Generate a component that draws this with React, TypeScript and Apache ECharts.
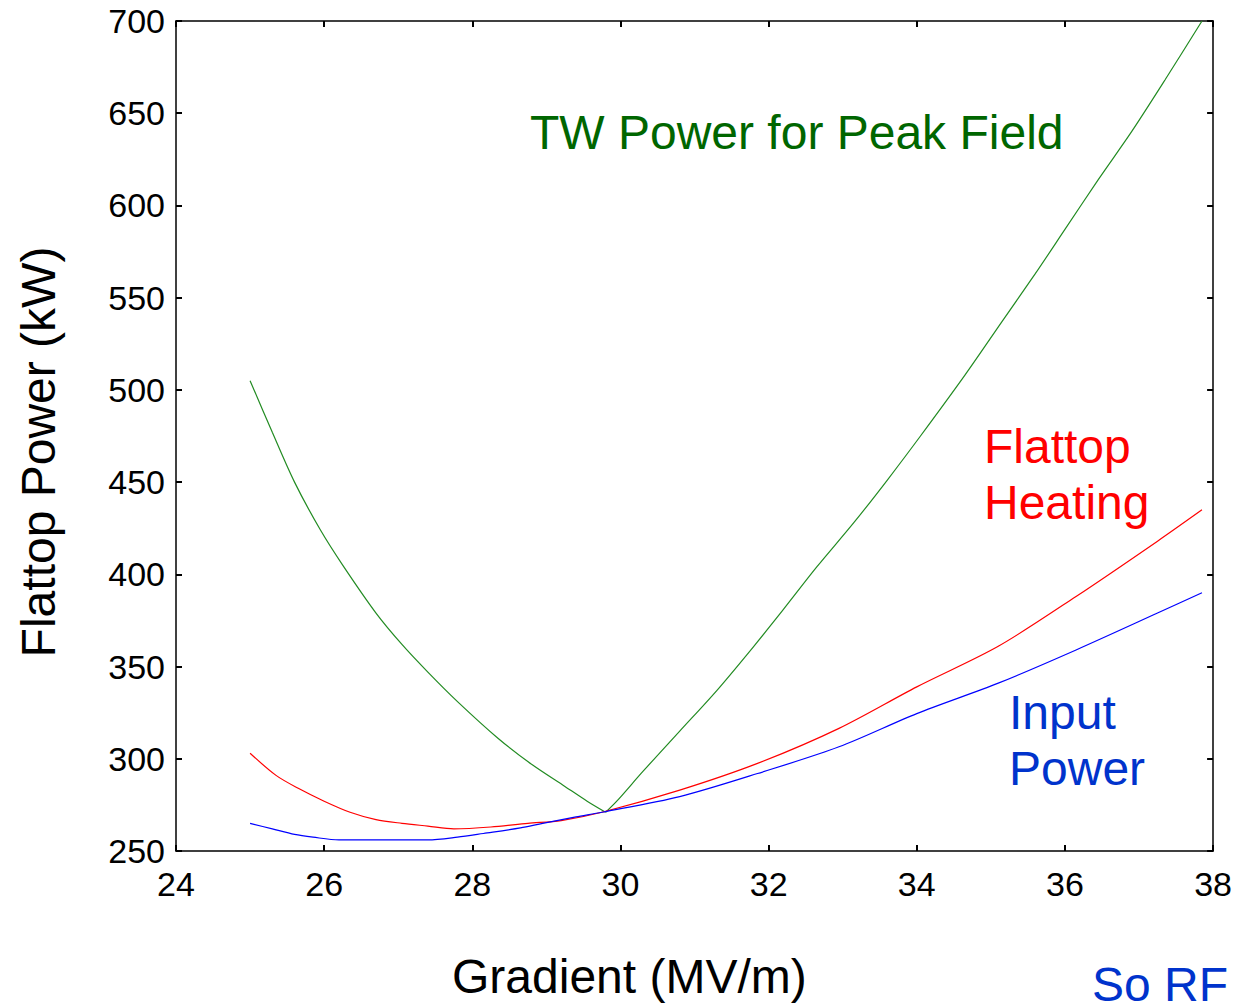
import React, { useEffect, useRef } from "react";
import * as echarts from "echarts";

// Gradient (MV/m) samples and flattop power (kW) for each curve.
// The TW curve has a sharp minimum, so it is kept as two branches meeting there.
const twLeftGradient = [25.0, 25.3, 25.6, 25.95, 26.25, 26.7, 27.05, 27.4, 27.8, 28.35, 28.8, 29.25, 29.55, 29.8];
const twLeftPower = [505, 477, 450, 424, 405, 379, 362, 347, 331, 311, 297, 285, 277, 271];
const twRightGradient = [29.8, 29.95, 30.3, 30.8, 31.3, 31.8, 32.2, 32.65, 33.15, 33.6, 34.05, 34.65, 35.15, 35.6, 36.0, 36.45, 36.9, 37.35, 37.85];
const twRightPower = [271, 277, 293, 315, 337, 361, 381, 404, 428, 451, 475, 508, 537, 563, 587, 614, 640, 668, 700];

const heatGradient = [25.0, 25.35, 25.65, 26.0, 26.35, 26.7, 27.05, 27.4, 27.75, 28.25, 28.75, 29.2, 29.75, 30.8, 31.85, 32.95, 34.0, 35.1, 36.15, 37.25, 37.85];
const heatPower = [303, 291, 284, 277, 271, 267, 265, 263.5, 262, 263, 265, 266.5, 271, 283, 297.5, 316.5, 339, 361, 388, 418, 435];

const inputGradient = [25.0, 25.3, 25.6, 25.85, 26.2, 27.4, 27.8, 28.15, 28.65, 28.95, 29.4, 29.75, 30.8, 31.85, 32.95, 34.0, 35.1, 36.15, 37.25, 37.85];
const inputPower = [265, 262, 259, 257.5, 256, 256, 257.5, 259.5, 262.5, 265, 268.5, 271, 279.5, 292, 306.5, 324.5, 341, 359, 379, 390];

const xTicks = { min: 24, max: 38, interval: 2 };
const yTicks = { min: 250, max: 700, interval: 50 };

const pairs = (xs: number[], ys: number[]) => xs.map((x, i) => [x, ys[i]]);

const FONT = "Liberation Sans, Arial, sans-serif";

export default function App() {
  const ref = useRef<HTMLDivElement>(null);

  useEffect(() => {
    if (!ref.current) return;
    const chart = echarts.init(ref.current, null, { renderer: "svg" });

    const tickStyle = { inside: true, length: 6, lineStyle: { color: "#000", width: 2 } };
    const axisLine = { show: true, lineStyle: { color: "#000", width: 1.5 } };
    const curve = (name: string, data: number[][], color: string) => ({
      name,
      type: "line",
      data,
      showSymbol: false,
      smooth: 0.3,
      lineStyle: { color, width: 1.2 },
    });

    chart.setOption({
      animation: false,
      backgroundColor: "#fff",
      grid: { left: 176, right: 21, top: 21, bottom: 153, containLabel: false },
      xAxis: [
        {
          type: "value",
          ...xTicks,
          position: "bottom",
          axisLine,
          axisTick: tickStyle,
          splitLine: { show: false },
          axisLabel: { color: "#000", fontSize: 34, fontFamily: FONT, margin: 16 },
        },
        {
          type: "value",
          ...xTicks,
          position: "top",
          axisLine,
          axisTick: tickStyle,
          splitLine: { show: false },
          axisLabel: { show: false },
        },
      ],
      yAxis: [
        {
          type: "value",
          ...yTicks,
          position: "left",
          axisLine,
          axisTick: tickStyle,
          splitLine: { show: false },
          axisLabel: { color: "#000", fontSize: 34, fontFamily: FONT, margin: 11 },
        },
        {
          type: "value",
          ...yTicks,
          position: "right",
          axisLine,
          axisTick: tickStyle,
          splitLine: { show: false },
          axisLabel: { show: false },
        },
      ],
      series: [
        curve("TW Power for Peak Field", pairs(twLeftGradient, twLeftPower), "#228b22"),
        curve("TW Power for Peak Field", pairs(twRightGradient, twRightPower), "#228b22"),
        curve("Flattop Heating", pairs(heatGradient, heatPower), "#ff0000"),
        curve("Input Power", pairs(inputGradient, inputPower), "#0000ff"),
      ],
      graphic: [
        {
          type: "text",
          left: 452,
          top: 952,
          style: { text: "Gradient (MV/m)", fill: "#000", font: `48px ${FONT}` },
        },
        {
          type: "text",
          x: 38,
          y: 452,
          rotation: Math.PI / 2,
          style: {
            text: "Flattop Power (kW)",
            fill: "#000",
            font: `48px ${FONT}`,
            align: "center",
            verticalAlign: "middle",
          },
        },
        {
          type: "text",
          left: 530,
          top: 108,
          style: { text: "TW Power for Peak Field", fill: "#006600", font: `48px ${FONT}` },
        },
        {
          type: "text",
          left: 984,
          top: 418,
          style: { text: "Flattop\nHeating", fill: "#ff0000", font: `48px ${FONT}`, lineHeight: 56 },
        },
        {
          type: "text",
          left: 1009,
          top: 684,
          style: { text: "Input\nPower", fill: "#0033cc", font: `48px ${FONT}`, lineHeight: 56 },
        },
        {
          type: "text",
          left: 1092,
          top: 960,
          style: { text: "So RF", fill: "#0033cc", font: `48px ${FONT}` },
        },
      ],
    });

    return () => chart.dispose();
  }, []);

  return (
    <div
      ref={ref}
      style={{ position: "fixed", left: 0, top: 0, width: 1235, height: 1004, background: "#fff" }}
    />
  );
}
